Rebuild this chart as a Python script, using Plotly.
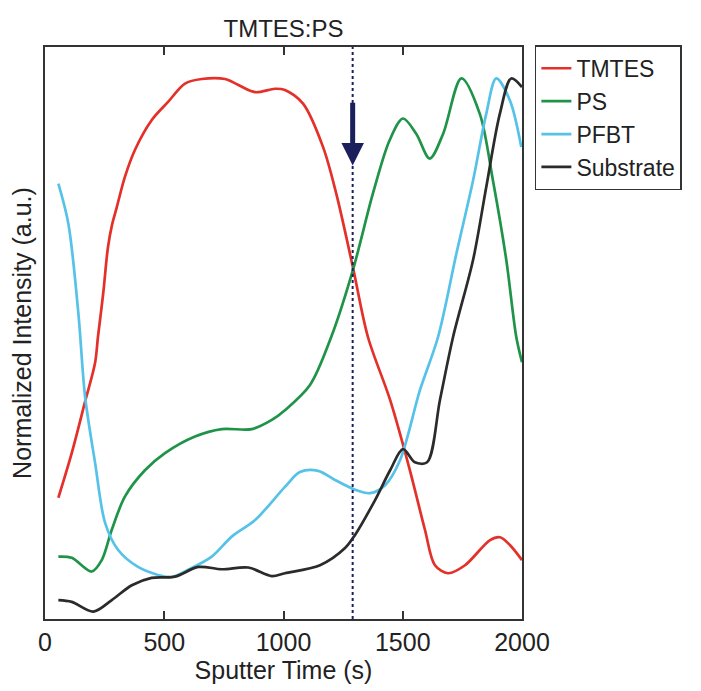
import plotly.graph_objects as go

# ---- data ----
tmtes_t = [56, 112, 168, 210, 222, 244, 264, 281, 301, 335, 377, 447, 516, 587, 657, 755, 809, 881, 964, 1006,
           1082, 1166, 1221, 1291, 1354, 1447, 1530, 1593, 1635, 1690, 1761, 1866, 1908, 1950, 2000]
tmtes_y = [0.212, 0.290, 0.380, 0.448, 0.493, 0.569, 0.650, 0.689, 0.720, 0.773, 0.820, 0.872, 0.904, 0.936,
           0.944, 0.944, 0.934, 0.921, 0.927, 0.925, 0.901, 0.825, 0.744, 0.615, 0.493, 0.383, 0.260,
           0.156, 0.094, 0.080, 0.094, 0.138, 0.143, 0.129, 0.103]

ps_t = [56, 112, 196, 238, 280, 335, 419, 503, 629, 741, 867, 951, 1006, 1111, 1200, 1291, 1375, 1445,
        1501, 1557, 1613, 1669, 1746, 1823, 1878, 1934, 1976, 2000]
ps_y = [0.109, 0.107, 0.083, 0.103, 0.156, 0.214, 0.260, 0.290, 0.319, 0.332, 0.332, 0.348, 0.365,
        0.409, 0.493, 0.610, 0.744, 0.837, 0.875, 0.848, 0.805, 0.848, 0.945, 0.883, 0.767, 0.628,
        0.493, 0.449]

pfbt_t = [56, 98, 140, 168, 210, 252, 306, 390, 474, 531, 600, 699, 783, 881, 1006, 1069, 1145, 1216,
          1300, 1363, 1426, 1489, 1572, 1648, 1725, 1795, 1850, 1892, 1949, 1997]
pfbt_y = [0.761, 0.691, 0.534, 0.389, 0.273, 0.168, 0.121, 0.091, 0.077, 0.073, 0.086, 0.109, 0.144,
          0.173, 0.231, 0.257, 0.259, 0.243, 0.226, 0.220, 0.234, 0.278, 0.400, 0.493, 0.639, 0.767,
          0.883, 0.945, 0.907, 0.825]

sub_t = [56, 112, 203, 280, 364, 447, 545, 643, 741, 852, 951, 1006, 1153, 1258, 1300, 1384, 1447,
         1501, 1551, 1602, 1656, 1711, 1795, 1850, 1907, 1955, 2000]
sub_y = [0.033, 0.030, 0.013, 0.033, 0.059, 0.072, 0.074, 0.091, 0.087, 0.090, 0.075, 0.080, 0.094,
         0.124, 0.147, 0.208, 0.260, 0.297, 0.274, 0.274, 0.383, 0.493, 0.628, 0.755, 0.883, 0.945,
         0.930]

series_names = ["TMTES", "PS", "PFBT", "Substrate"]
series_colors = ["#e3312a", "#1f9449", "#56c2e8", "#2b2b2b"]

marker_time = 1290
arrow_top, arrow_tip = 0.905, 0.793

FONT = "Liberation Sans, Arial, sans-serif"
TXT = "#222222"

# the page body has an 8px default margin, so the figure is sized to fit the window
W, H = 693, 683
ML, MR, MT, MB = 37, 179, 39, 72

fig = go.Figure()
for name, tx, ty, col in zip(series_names, [tmtes_t, ps_t, pfbt_t, sub_t],
                             [tmtes_y, ps_y, pfbt_y, sub_y], series_colors):
    fig.add_trace(go.Scatter(x=tx, y=ty, mode="lines", name=name,
                             line=dict(color=col, width=2.7, shape="spline", smoothing=0.9)))

fig.add_shape(type="line", x0=marker_time, x1=marker_time, y0=0, y1=1, xref="x", yref="paper",
              line=dict(color="#1b1f5c", width=2, dash="dot"))

fig.add_annotation(x=marker_time, y=arrow_tip, ax=marker_time, ay=arrow_top,
                   xref="x", yref="y", axref="x", ayref="y", text="", showarrow=True,
                   arrowhead=2, arrowsize=0.9, arrowwidth=5, arrowcolor="#1b1f5c")

fig.update_layout(
    width=W, height=H,
    margin=dict(l=ML, r=MR, t=MT, b=MB, autoexpand=False),
    paper_bgcolor="white", plot_bgcolor="white",
    font=dict(family=FONT, size=25, color=TXT),
    title=dict(text="TMTES:PS", x=(ML + W - MR) / 2 / W, xanchor="center", y=1 - 21 / H,
               yanchor="middle", font=dict(size=24, color=TXT)),
    showlegend=True,
    legend=dict(x=1.027, y=1.003, xanchor="left", yanchor="top", bgcolor="white",
                bordercolor="#333333", borderwidth=1.5, font=dict(size=23, color=TXT),
                traceorder="normal", itemwidth=30),
)
fig.update_xaxes(range=[0, 2000], tickvals=[0, 500, 1000, 1500, 2000],
                 ticktext=["0", "500", "1000", "1500", "2000"], ticks="inside", ticklen=8,
                 tickwidth=2, tickcolor="#333333", showline=True, linecolor="#333333",
                 linewidth=2, mirror="ticks", showgrid=False, zeroline=False, automargin=False,
                 title=dict(text="Sputter Time (s)", standoff=0, font=dict(size=25)),
                 tickfont=dict(size=25))
fig.update_yaxes(range=[0, 1], showticklabels=False, ticks="", showline=True,
                 linecolor="#333333", linewidth=2, mirror=True, showgrid=False, zeroline=False,
                 automargin=False,
                 title=dict(text="Normalized Intensity (a.u.)", standoff=6, font=dict(size=25)))

fig.write_html("out.html")
